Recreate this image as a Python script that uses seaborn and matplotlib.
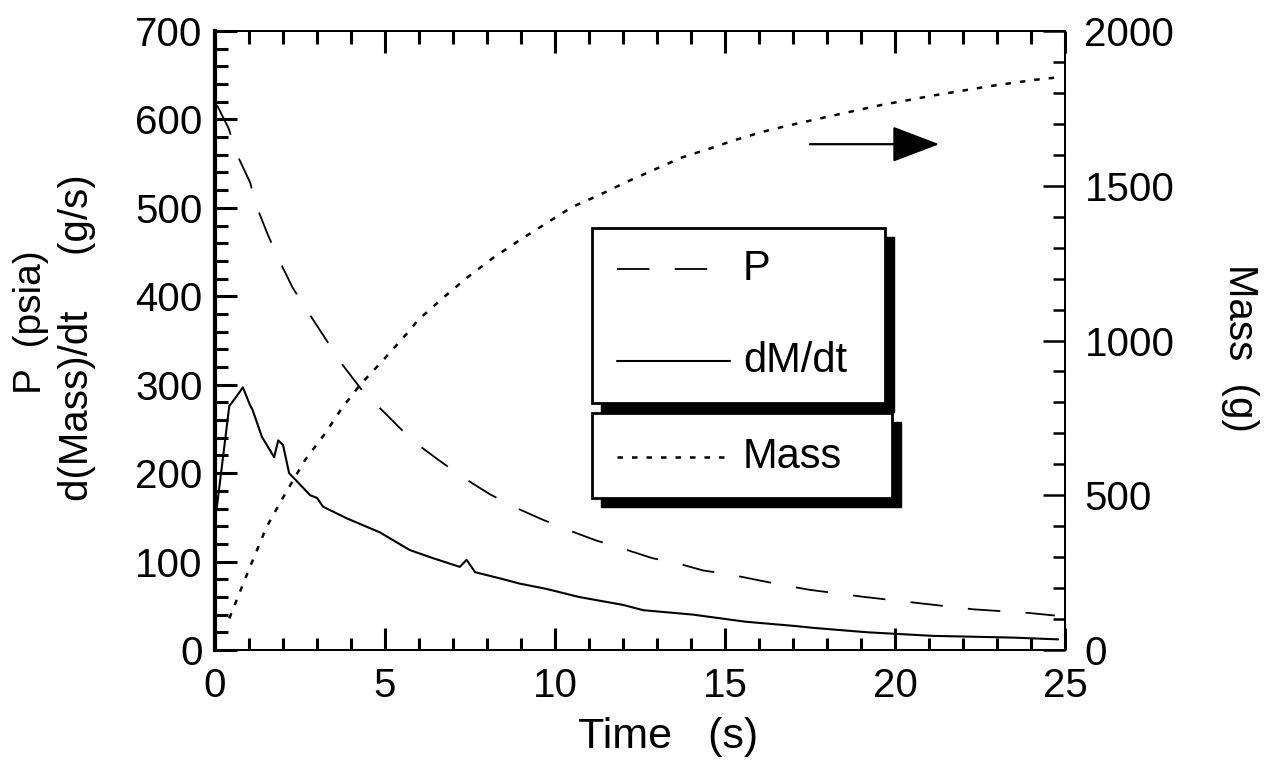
import numpy as np
import pandas as pd
import matplotlib
matplotlib.use("Agg")
import matplotlib.pyplot as plt
import seaborn as sns
from matplotlib.patches import Rectangle
from matplotlib.lines import Line2D
from matplotlib.ticker import MultipleLocator

# pressure (psia)
p_time = [0.06, 0.4, 0.65, 1.03, 1.23, 1.56, 1.91, 2.28, 2.74, 3.76, 4.36, 5.05,
          5.8, 6.5, 7.26, 8.09, 8.9, 9.6, 10.5, 11.2, 12.05, 12.85, 13.7, 14.35,
          15.2, 15.97, 16.76, 17.5, 19.1, 20.7, 22.3, 23.9, 24.7]
p_psia = [616, 590, 560, 529, 501, 469, 439, 410, 382, 322, 292, 266,
          237, 217, 196, 176, 160, 148, 134, 124, 114, 104, 97, 90,
          85, 79, 73, 68, 60, 53, 46, 42, 39]

# mass flow rate (g/s)
q_time = [0.05, 0.42, 0.6, 0.82, 1.03, 1.1, 1.38, 1.74, 1.86, 2.0, 2.18, 2.8, 3.0,
          3.18, 3.87, 4.85, 5.73, 6.4, 7.2, 7.4, 7.65, 8.38, 8.97, 9.76, 10.7,
          12.0, 12.6, 14.06, 15.6, 17.1, 17.6, 19.2, 21.1, 23.5, 24.8]
q_gs = [160, 276, 285, 297, 277, 272, 241, 218, 237, 232, 200, 175, 172,
        162, 149, 133, 113, 104, 94, 102, 88, 81, 75, 69, 60,
        51, 45, 40, 32, 27, 25, 20, 16, 14, 12]

# accumulated mass (g)
m_time = [0.42, 1.03, 1.52, 1.96, 2.19, 2.65, 3.24, 3.73, 4.26, 4.95, 5.69, 5.97,
          6.7, 7.4, 8.18, 8.97, 9.76, 10.5, 11.3, 12.1, 12.9, 13.7, 14.6, 15.3,
          16.1, 16.8, 18.1, 19.6, 21.2, 22.8, 24.1, 24.85]
m_g = [102, 269, 398, 485, 528, 614, 700, 781, 856, 937, 1028, 1066,
       1137, 1202, 1267, 1325, 1380, 1431, 1470, 1512, 1551, 1590, 1622, 1648,
       1674, 1693, 1725, 1761, 1793, 1822, 1842, 1851]

p_df = pd.DataFrame({"t": p_time, "v": p_psia})
q_df = pd.DataFrame({"t": q_time, "v": q_gs})
m_df = pd.DataFrame({"t": m_time, "v": m_g})

sns.set_theme(style="ticks")
plt.rcParams["font.family"] = ["Liberation Sans", "DejaVu Sans"]
plt.rcParams["text.color"] = "black"
plt.rcParams["axes.labelcolor"] = "black"

fig = plt.figure(figsize=(12.68, 7.63), dpi=100)
ax = fig.add_axes([215 / 1268, 113 / 763, 850 / 1268, 619 / 763])
ax2 = ax.twinx()

dash_p = (18, 14)
dot_m = (2.2, 3.6)

sns.lineplot(data=p_df, x="t", y="v", ax=ax, color="black", lw=1.3,
             estimator=None, sort=False)
ax.lines[-1].set_dashes(dash_p)
sns.lineplot(data=q_df, x="t", y="v", ax=ax, color="black", lw=1.5,
             estimator=None, sort=False)
sns.lineplot(data=m_df, x="t", y="v", ax=ax2, color="black", lw=1.8,
             estimator=None, sort=False)
ax2.lines[-1].set_dashes(dot_m)

ax.set_xlim(0, 25)
ax.set_ylim(0, 700)
ax2.set_ylim(0, 2000)
ax.set_xlabel("")
ax.set_ylabel("")
ax2.set_ylabel("")

ax.xaxis.set_major_locator(MultipleLocator(5))
ax.xaxis.set_minor_locator(MultipleLocator(1))
ax.yaxis.set_major_locator(MultipleLocator(100))
ax.yaxis.set_minor_locator(MultipleLocator(20))
ax2.yaxis.set_major_locator(MultipleLocator(500))
ax2.yaxis.set_minor_locator(MultipleLocator(100))

ax.tick_params(axis="both", which="both", direction="in", top=True, right=False,
               colors="black", labelsize=29)
ax.tick_params(axis="both", which="major", length=16, width=2.2)
ax.tick_params(axis="both", which="minor", length=9, width=2.2)
ax.tick_params(axis="y", pad=9)
ax.tick_params(axis="x", pad=12)
ax2.tick_params(axis="y", which="both", direction="in", colors="black",
                labelsize=29, pad=14)
ax2.tick_params(axis="y", which="major", length=16, width=1.8)
ax2.tick_params(axis="y", which="minor", length=9, width=1.8)

for a in (ax, ax2):
    for side, s in a.spines.items():
        s.set_color("black")
        s.set_linewidth(1.3)
ax.spines["left"].set_linewidth(3)
ax2.spines["left"].set_visible(False)

# axis titles
fig.text(668 / 1268, 1 - 737 / 763, "Time   (s)", fontsize=31, ha="center", va="center")
fig.text(31 / 1268, 1 - 322 / 763, "P  (psia)", fontsize=28, rotation=90,
         ha="center", va="center")
fig.text(77 / 1268, 1 - 338 / 763, "d(Mass)/dt     (g/s)", fontsize=29, rotation=90,
         ha="center", va="center")
fig.text(1240 / 1268, 1 - 348 / 763, "Mass  (g)", fontsize=29, rotation=270,
         ha="center", va="center")

# arrow pointing to the mass axis
ax.annotate("", xy=(21.3, 572), xytext=(17.5, 572),
            arrowprops=dict(arrowstyle="-|>,head_length=2.5,head_width=0.95",
                            color="black", lw=1.6, shrinkA=0, shrinkB=0))

# legend boxes with drop shadow
tr = ax.transAxes
sx, sy = 0.0106, -0.0145
boxes = [(0.4435, 0.399, 0.3445, 0.283), (0.4435, 0.2456, 0.3525, 0.1374)]
for x0, y0, w, h in boxes:
    ax.add_patch(Rectangle((x0 + sx, y0 + sy), w, h, transform=tr,
                           facecolor="black", edgecolor="black", zorder=5))
    ax.add_patch(Rectangle((x0, y0), w, h, transform=tr, facecolor="white",
                           edgecolor="black", lw=2, zorder=6))

def ax_x(px):
    return (px - 215) / 850

def ax_y(py):
    return (650 - py) / 619

entries = [("P", 269, dash_p, 1.3),
           ("dM/dt", 361, None, 1.5),
           ("Mass", 457, dot_m, 1.8)]
for label, py, dashes, lw in entries:
    ln = Line2D([ax_x(617), ax_x(730)], [ax_y(py), ax_y(py)], transform=tr,
                color="black", lw=lw, zorder=7)
    if dashes is not None:
        ln.set_dashes(dashes)
    ax.add_line(ln)
    ax.text(ax_x(743), ax_y(py), label, transform=tr, fontsize=30,
            ha="left", va="center", zorder=7)

fig.savefig("out.png", dpi=100, facecolor="white")
